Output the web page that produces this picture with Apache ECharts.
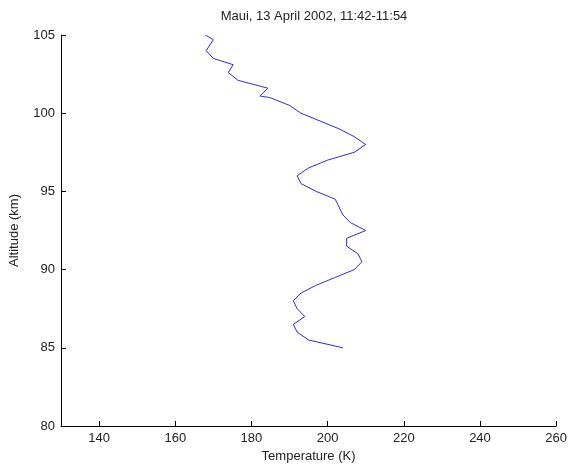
<!DOCTYPE html>
<html><head><meta charset="utf-8">
<script src="https://cdn.jsdelivr.net/npm/echarts@6/dist/echarts.min.js"></script>
<style>html,body{margin:0;padding:0;background:#fff}#c{width:570px;height:470px}</style>
</head><body><div id="c"></div>
<script>
const titleText = "Maui, 13 April 2002, 11:42-11:54";
const xName = "Temperature (K)";
const yName = "Altitude (km)";
const altitude = [105.0,104.7,104.0,103.5,103.1,102.6,102.1,101.9,101.6,101.1,101.0,100.5,100.0,99.5,99.0,98.5,98.0,97.5,97.0,96.5,96.0,95.5,95.0,94.5,94.0,93.5,93.0,92.5,92.0,91.5,91.0,90.5,90.0,89.5,89.0,88.5,88.0,87.5,87.0,86.5,86.0,85.5,85.0];
const temperature = [167.9,170.0,168.1,170.0,175.2,173.9,176.5,179.6,184.3,182.2,184.8,190,193,198,203,207,210,207,200,195,192,193,197,202,203,204,206,210,205,205,208,209,207,202,197,193,191,192,194,191,192,195,204];
const xTicks = [140,160,180,200,220,240,260];
const yTicks = [80,85,90,95,100,105];

const chart = echarts.init(document.getElementById('c'));
const font = "'Liberation Sans', Arial, sans-serif";
chart.setOption({
  animation:false,
  title:{text:titleText,left:309,top:5,textAlign:'center',textStyle:{fontFamily:font,fontSize:13,fontWeight:'normal',color:'#222'}},
  grid:{left:60,right:12,top:35,bottom:44},
  xAxis:{type:'value',min:130,max:260,interval:10,name:xName,nameLocation:'middle',nameGap:24,
    nameTextStyle:{fontFamily:font,fontSize:13,color:'#222'},
    axisLine:{lineStyle:{color:'#000',width:1}},
    axisTick:{inside:true,length:5,lineStyle:{color:'#000'},customValues:xTicks},
    axisLabel:{fontFamily:font,fontSize:13,color:'#222',margin:6,customValues:xTicks},
    splitLine:{show:false}},
  yAxis:{type:'value',min:80,max:105,interval:5,name:yName,nameLocation:'middle',nameGap:40,
    nameTextStyle:{fontFamily:font,fontSize:13,color:'#222'},
    axisLine:{lineStyle:{color:'#000',width:1}},
    axisTick:{inside:true,length:5,lineStyle:{color:'#000'},customValues:yTicks},
    axisLabel:{fontFamily:font,fontSize:13,color:'#222',margin:6,customValues:yTicks},
    splitLine:{show:false}},
  series:[{type:'line',data:temperature.map((t,i)=>[t,altitude[i]]),showSymbol:false,
    lineStyle:{color:'#2a2ae8',width:1},silent:true}]
});
</script></body></html>
